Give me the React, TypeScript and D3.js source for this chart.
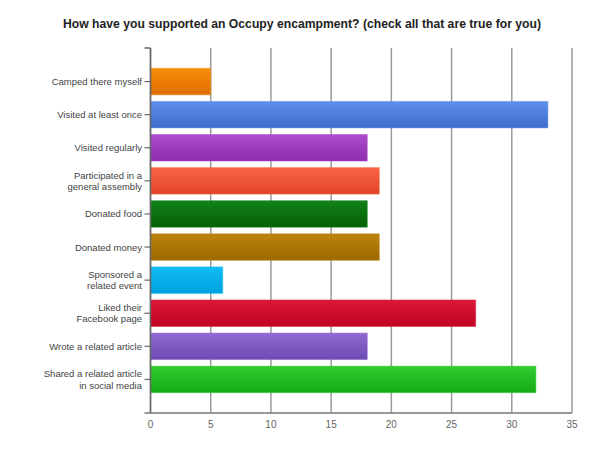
import React from "react";
import * as d3 from "d3";

const title = "How have you supported an Occupy encampment? (check all that are true for you)";
const categories = [
  "Camped there myself",
  "Visited at least once",
  "Visited regularly",
  "Participated in a\ngeneral assembly",
  "Donated food",
  "Donated money",
  "Sponsored a\nrelated event",
  "Liked their\nFacebook page",
  "Wrote a related article",
  "Shared a related article\nin social media",
];
const values = [5, 33, 18, 19, 18, 19, 6, 27, 18, 32];
const colorsTop = ["#f88c0a", "#5e90ea", "#ae4ccc", "#fa6446", "#12821a", "#bc840e", "#10bcf4", "#dc1838", "#8e6ad2", "#30cc30"];
const colorsBottom = ["#e06e00", "#3e6ccc", "#8c2eae", "#e0442a", "#046004", "#9c6800", "#00a0e0", "#c00424", "#6e4cb4", "#14aa14"];
const xTicks = [0, 5, 10, 15, 20, 25, 30, 35];

const W = 600, H = 451;
const left = 150.5, right = 572, top = 48, bottom = 413;

export default function App() {
  const x = d3.scaleLinear().domain([0, 35]).range([left, right]);
  const y = d3.scaleBand<number>().domain(d3.range(categories.length)).range([top, bottom]).paddingInner(0.2).paddingOuter(0.615);
  const font = "'Liberation Sans', Arial, sans-serif";
  return (
    <svg width={W} height={H} style={{ position: "absolute", left: 0, top: 0, background: "#fff" }} fontFamily={font}>
      <defs>
        {categories.map((_, i) => (
          <linearGradient key={i} id={`g${i}`} x1="0" y1="0" x2="0" y2="1">
            <stop offset="0" stopColor={colorsTop[i]} />
            <stop offset="1" stopColor={colorsBottom[i]} />
          </linearGradient>
        ))}
      </defs>
      <text x={302} y={27.5} textAnchor="middle" fontSize={12.2} fontWeight="bold" fill="#222">{title}</text>
      {xTicks.map((t) => (
        <line key={t} x1={x(t)} x2={x(t)} y1={top} y2={bottom} stroke="#9a9a9a" strokeWidth={1.5} />
      ))}
      {categories.map((c, i) => (
        <rect key={c} x={x(0)} y={y(i)!} width={x(values[i]) - x(0)} height={y.bandwidth()} fill={`url(#g${i})`} stroke={colorsTop[i]} strokeOpacity={0.5} strokeWidth={1} />
      ))}
      <line x1={left} x2={left} y1={top} y2={bottom} stroke="#666" strokeWidth={1.5} />
      <line x1={left - 6} x2={left} y1={top} y2={top} stroke="#666" strokeWidth={1.5} />
      <line x1={left - 6} x2={right} y1={bottom} y2={bottom} stroke="#777" strokeWidth={1.5} />
      {categories.map((c, i) => {
        const cy = y(i)! + y.bandwidth() / 2;
        const lines = c.split("\n");
        const lh = 11.5;
        return (
          <g key={c}>
            <line x1={left - 6} x2={left} y1={cy} y2={cy} stroke="#666" strokeWidth={1.2} />
            {lines.map((l, j) => (
              <text key={j} x={142} y={cy + 3.5 + (j - (lines.length - 1) / 2) * lh} textAnchor="end" fontSize={9.5} fill="#444">{l}</text>
            ))}
          </g>
        );
      })}
      {xTicks.map((t) => (
        <text key={t} x={x(t)} y={427.5} textAnchor="middle" fontSize={10} fill="#666">{t}</text>
      ))}
    </svg>
  );
}
